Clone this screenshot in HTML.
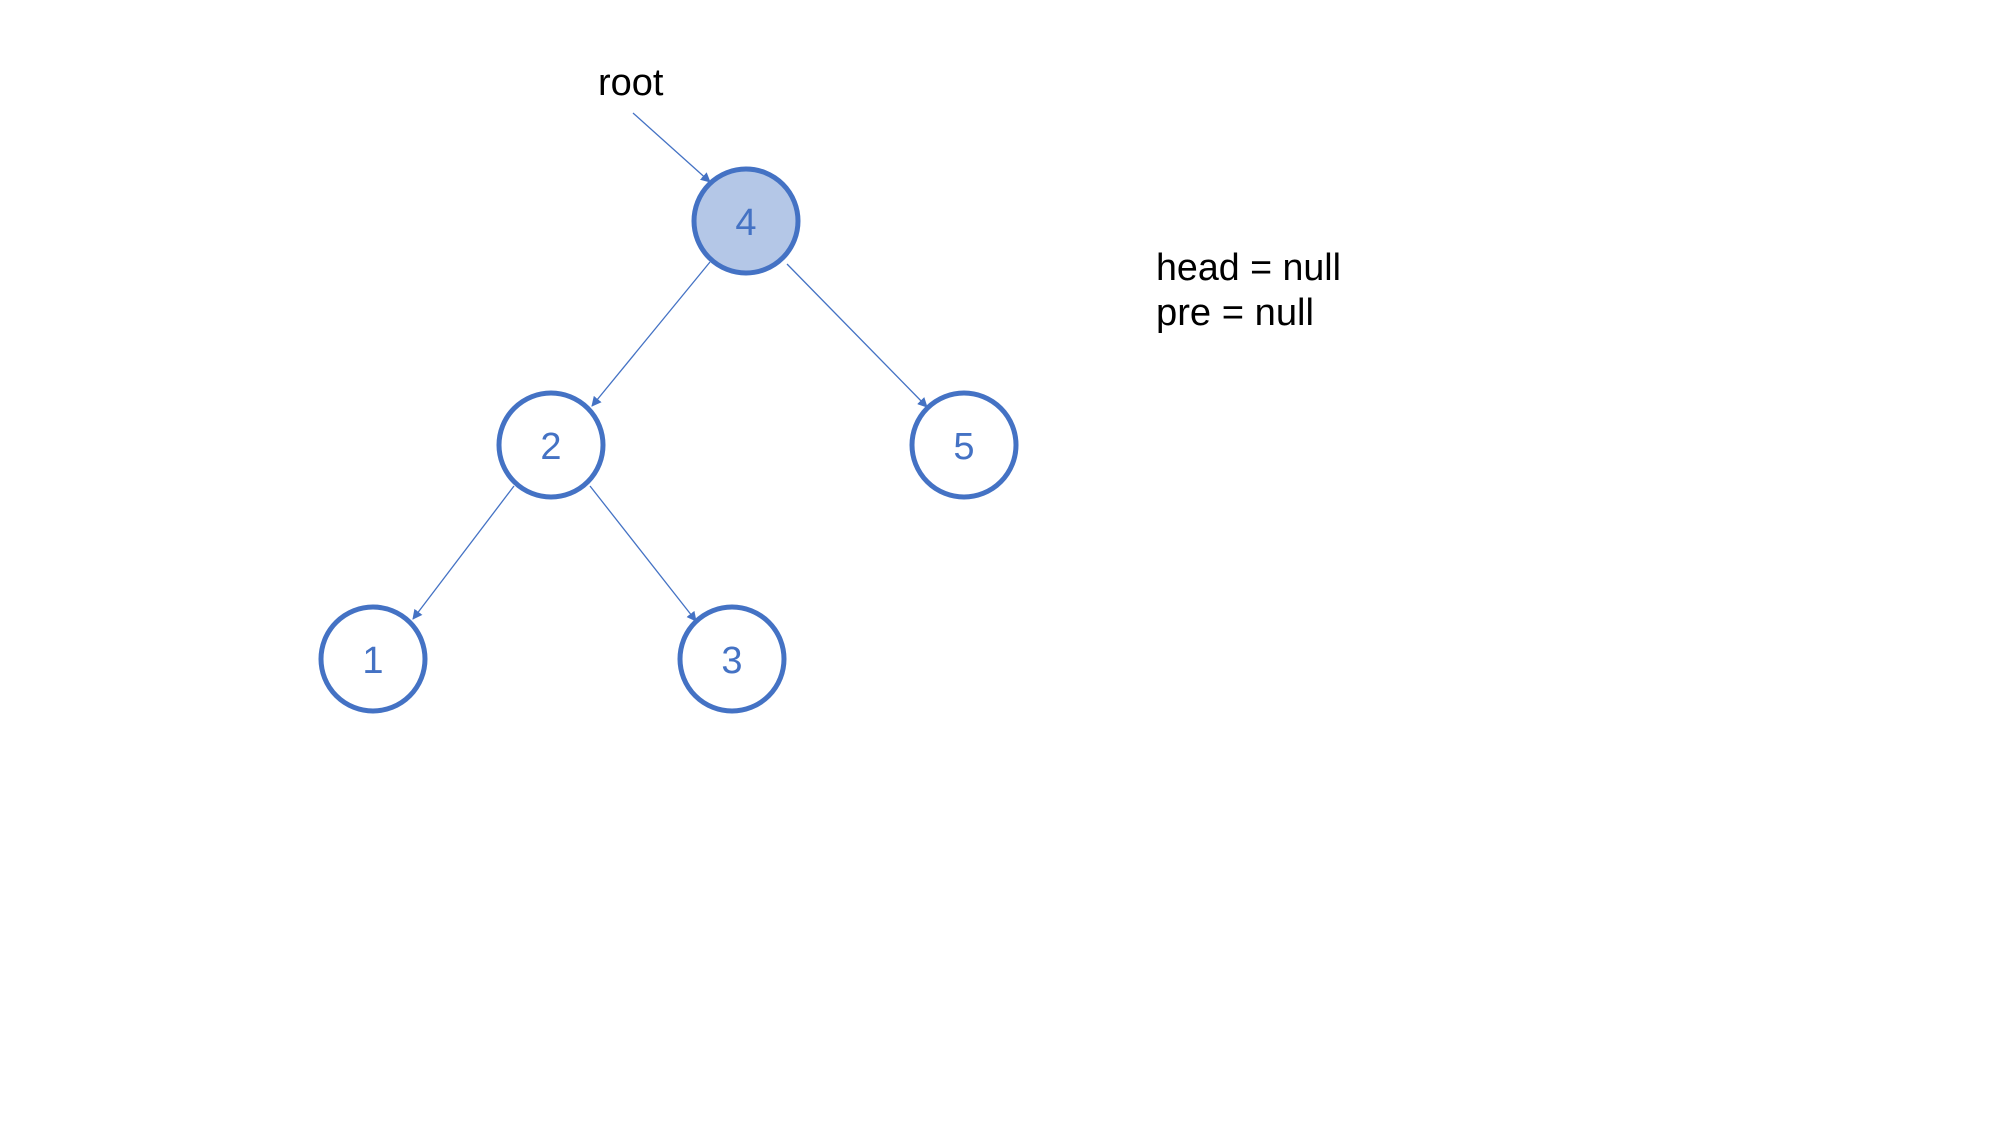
<!DOCTYPE html>
<html><head><style>html,body{margin:0;background:#fff;}</style></head><body>
<svg width="2000" height="1125" viewBox="0 0 2000 1125" xmlns="http://www.w3.org/2000/svg">
<defs><marker id="a" markerWidth="10" markerHeight="10" refX="9" refY="5" orient="auto" markerUnits="userSpaceOnUse"><path d="M0,0 L10,5 L0,10 z" fill="#4472C4"/></marker></defs>
<g stroke="#4472C4" stroke-width="1.3" marker-end="url(#a)">
<line x1="633" y1="113" x2="710" y2="182"/>
<line x1="710" y1="262" x2="592" y2="406"/>
<line x1="787" y1="264" x2="927" y2="407"/>
<line x1="514" y1="486" x2="413" y2="619"/>
<line x1="590" y1="486" x2="696" y2="621"/>
</g>
<g stroke="#4472C4" stroke-width="5" fill="#fff">
<circle cx="746" cy="221" r="52" fill="#B4C7E7"/>
<circle cx="551" cy="445" r="52"/>
<circle cx="964" cy="445" r="52"/>
<circle cx="373" cy="659" r="52"/>
<circle cx="732" cy="659" r="52"/>
</g>
<g font-family="Liberation Sans, sans-serif" font-size="38" fill="#4472C4" text-anchor="middle">
<text x="746" y="235">4</text><text x="551" y="459">2</text><text x="964" y="459">5</text><text x="373" y="673">1</text><text x="732" y="673">3</text>
</g>
<g font-family="Liberation Sans, sans-serif" font-size="38" fill="#000">
<text x="598" y="95">root</text>
<text x="1156" y="280" textLength="185" lengthAdjust="spacingAndGlyphs">head = null</text>
<text x="1156" y="325" textLength="158" lengthAdjust="spacingAndGlyphs">pre = null</text>
</g>
</svg>
</body></html>
